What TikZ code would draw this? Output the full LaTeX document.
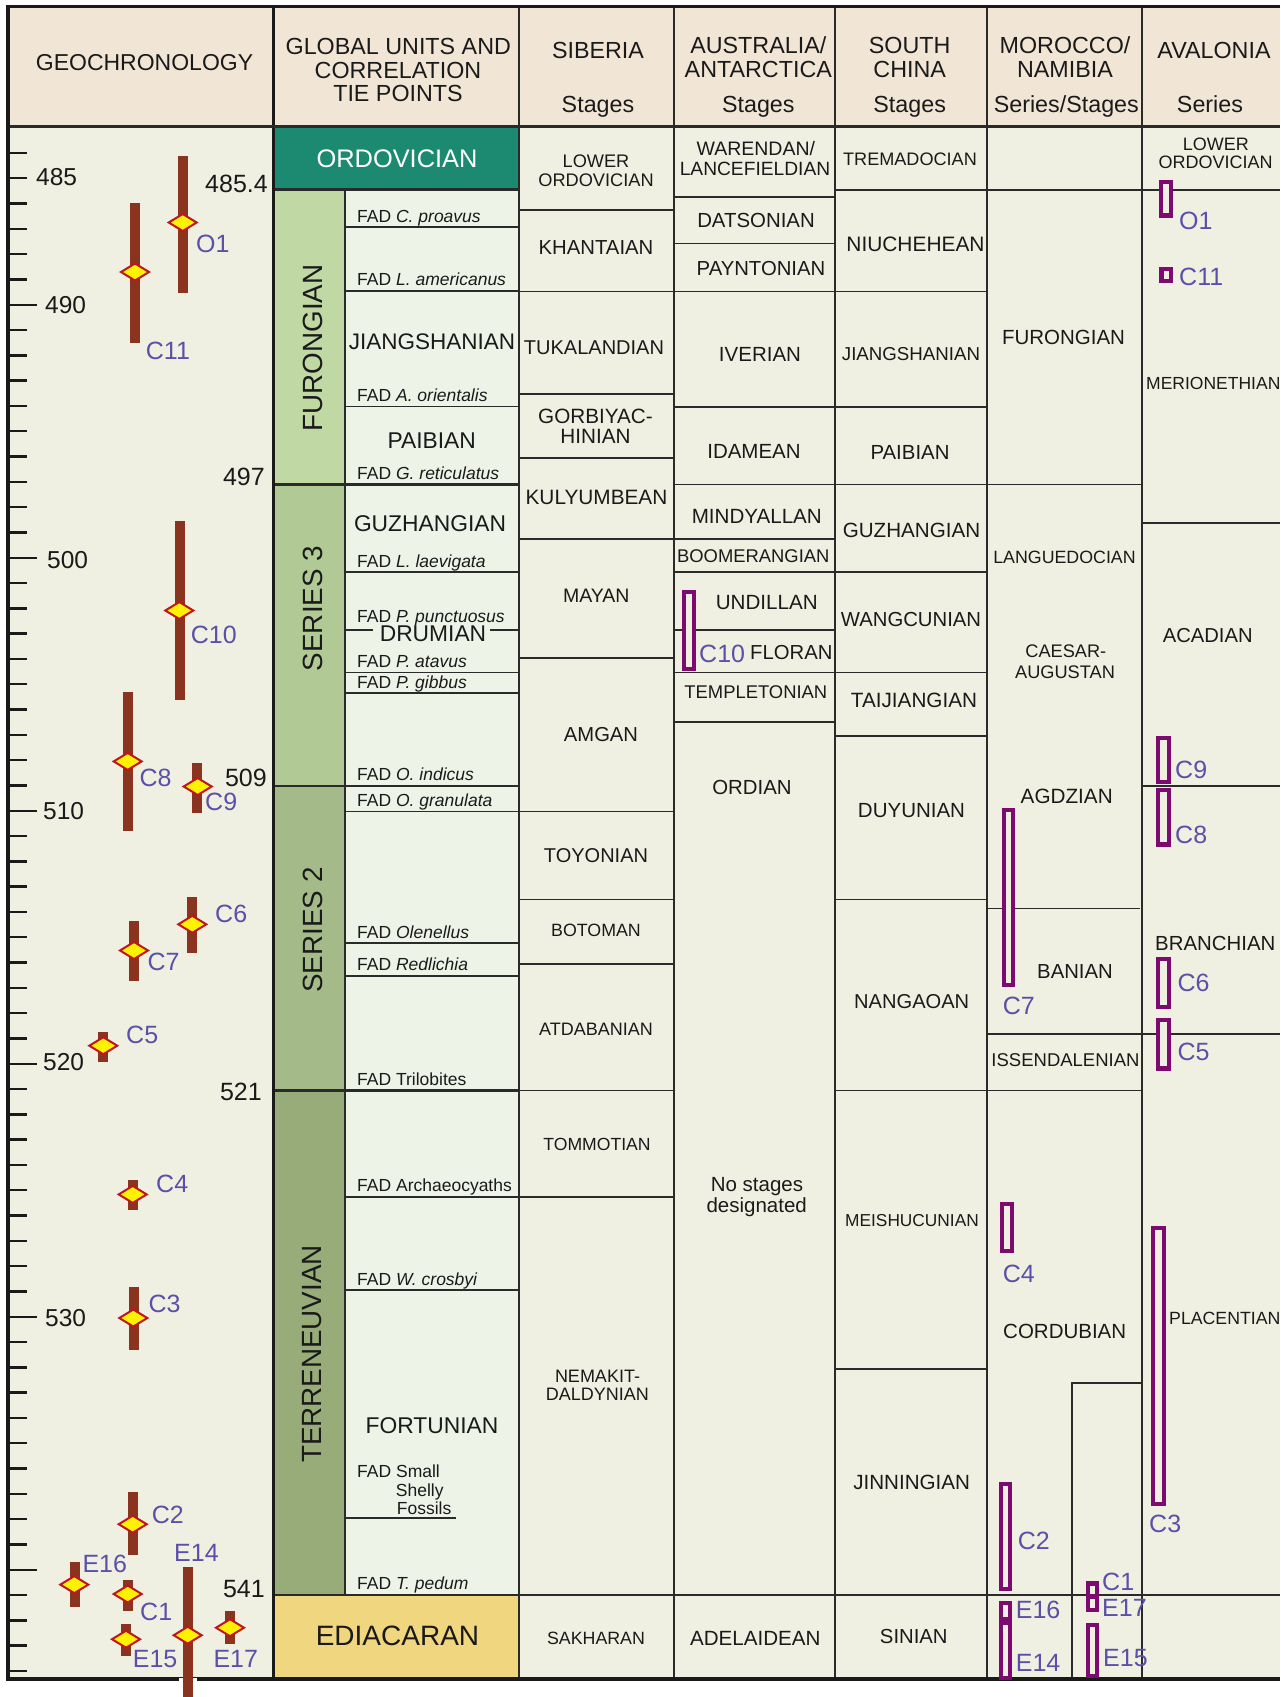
\documentclass[tikz,border=0pt]{standalone}
\usepackage{fontspec}
\setmainfont{Liberation Sans}
\newcommand\setfs[1]{\fontsize{#1}{#1}\selectfont}
\definecolor{headbg}{HTML}{F1E5D5}
\definecolor{bodybg}{HTML}{F0F0E2}
\definecolor{stagebg}{HTML}{EEF3E8}
\definecolor{ordo}{HTML}{1B8A70}
\definecolor{furo}{HTML}{C0D9A4}
\definecolor{ser3}{HTML}{B1CA95}
\definecolor{ser2}{HTML}{A4BB89}
\definecolor{terre}{HTML}{98AC79}
\definecolor{edia}{HTML}{F0D77F}
\definecolor{ink}{HTML}{1A1A1A}
\definecolor{rule}{HTML}{2A2A2A}
\definecolor{barbrown}{HTML}{8A3420}
\definecolor{diafill}{HTML}{FFF200}
\definecolor{diaedge}{HTML}{C0141E}
\definecolor{tiepurple}{HTML}{7D0A6E}
\definecolor{tielabel}{HTML}{5B50A8}

% brown age range with its tie-point diamond
\newcommand\gmark[6]{%
  \fill[barbrown] (#1,#2) rectangle (#3,#4);
  \draw[gdia] ({#5-14},#6) -- (#5,{#6-8.5}) -- ({#5+14},#6) -- (#5,{#6+8.5}) -- cycle;}
% purple range box in the regional columns (outer edge given)
\newcommand\tiebox[4]{\draw[tie] ({#1+2.1},{#2+2.1}) rectangle ({#3-2.1},{#4-2.1});}
% text cell: name, x, y, size, text
\newcommand\cell[5]{\node[txt,font=\setfs{#4}] (#1) at (#2,#3) {#5};}
% FAD datum label sitting on its line
\newcommand\fad[3]{\node[txt,font=\setfs{17.5},anchor=base west] (#1) at (357,{#2-5}) {#3};}

\begin{document}
\begin{tikzpicture}[x=1pt,y=-1pt,
  txt/.style={inner sep=0pt,text=ink},
  hl/.style={draw=rule,line width=1.7pt},
  bl/.style={draw=rule,line width=2.4pt},
  vl/.style={draw=rule,line width=2.2pt},
  frame/.style={draw=ink,line width=3.6pt},
  tick/.style={draw=ink,line width=2.4pt},
  tie/.style={draw=tiepurple,line width=4.2pt,fill=bodybg},
  tielab/.style={inner sep=0pt,text=tielabel,font=\setfs{25},anchor=west},
  gdia/.style={draw=diaedge,fill=diafill,line width=2pt},
  agelab/.style={inner sep=0pt,text=ink,font=\setfs{25},anchor=east},
  scalelab/.style={inner sep=0pt,text=ink,font=\setfs{24.5},anchor=west},
  serieslab/.style={inner sep=0pt,text=ink,font=\setfs{27.8},rotate=90},
]
\useasboundingbox (0,0) rectangle (1280,1697);
\fill[white] (0,0) rectangle (1280,1697);

% ---------- backgrounds ----------
\fill[headbg] (8,6.5) rectangle (1280,126.5);
\fill[bodybg] (8,126.5) rectangle (1280,1679);
\fill[stagebg] (345,189.5) rectangle (518.7,1594.7);
\fill[ordo] (273,126.5) rectangle (518.7,189.5);
\fill[furo] (273,189.5) rectangle (345,484.4);
\fill[ser3] (273,484.4) rectangle (345,785.7);
\fill[ser2] (273,785.7) rectangle (345,1090.5);
\fill[terre] (273,1090.5) rectangle (345,1594.7);
\fill[edia] (273,1594.7) rectangle (518.7,1679);

% ---------- global units: stage lines and series boundaries ----------
\foreach \y in {227.3,290.9,406.5,572.3,672.6,693,811.5,943.2,975.9,1196.9,1290.2}
  \draw[hl] (345,\y) -- (518.7,\y);
\foreach \y in {189.5,484.4,785.7,1090.5,1594.7}
  \draw[bl] (273,\y) -- (518.7,\y);
\draw[hl] (345,629.7) -- (373,629.7);
\draw[hl] (490,629.7) -- (518.7,629.7);
\draw[hl] (345,1518) -- (456,1518);

% ---------- regional columns ----------
\foreach \y in {209.8,291.6,393.8,458.2,538.9,658.1,811.5,899.5,964.3,1090.5,1196.9,1594.7}
  \draw[hl] (518.7,\y) -- (674.3,\y);
\foreach \y in {197.1,243.6,291.6,407.3,484.4,538.9,572.3,629.7,672.6,722.1,1594.7}
  \draw[hl] (674.3,\y) -- (835,\y);
\foreach \y in {190.2,291.6,407.3,484.4,572.3,672.6,735.9,899.5,1090.5,1368.7,1594.7}
  \draw[hl] (835,\y) -- (987,\y);
\foreach \y in {190.2,484.4,1090.5,1594.7}
  \draw[hl] (987,\y) -- (1142,\y);
\draw[hl] (987,908.6) -- (1140,908.6);
\draw[hl] (987,1034.1) -- (1280,1034.1);
\draw[hl] (1072.3,1679) -- (1072.3,1383.2) -- (1142,1383.2);
\foreach \y in {190.2,523,785.7,1594.7}
  \draw[hl] (1142,\y) -- (1280,\y);

% ---------- column dividers and frame ----------
\draw[vl] (345,189.5) -- (345,1594.7);
\foreach \x in {518.7,674.3,835,987,1142}
  \draw[vl] (\x,6.5) -- (\x,1679);
\draw[draw=ink,line width=3pt] (273,6.5) -- (273,1679);
\draw[bl] (8,126.5) -- (1280,126.5);
\draw[frame] (1280,6.5) -- (8,6.5) -- (8,1679) -- (1280,1679);

% ---------- time scale ----------
\foreach \m in {484,...,544} {
  \pgfmathsetmacro\ty{304.7+(\m-490)*25.3}
  \pgfmathsetmacro\tx{mod(\m,10)==0 ? 37 : 27}
  \draw[tick] (8,\ty) -- (\tx,\ty);
}
\node[scalelab] (m485) at (36,177.5) {485};
\node[scalelab] (m490) at (45,305) {490};
\node[scalelab] (m500) at (47,560) {500};
\node[scalelab] (m510) at (43,811) {510};
\node[scalelab] (m520) at (43,1062) {520};
\node[scalelab] (m530) at (45,1318) {530};
\node[agelab] (b4854) at (268,183.6) {485.4};
\node[agelab] (b497) at (265,476.4) {497};
\node[agelab] (b509) at (267,777.7) {509};
\node[agelab] (b521) at (262,1092) {521};
\node[agelab] (b541) at (265,1588.6) {541};

% ---------- header ----------
\cell{hgeo}{144.5}{62.5}{23}{GEOCHRONOLOGY}
\cell{hgl1}{398.3}{46.5}{23.3}{GLOBAL UNITS AND}
\cell{hgl2}{398}{70.2}{23.3}{CORRELATION}
\cell{hgl3}{398}{93.8}{23.3}{TIE POINTS}
\cell{hsib}{598}{50.2}{23.3}{SIBERIA}
\cell{haus1}{758.3}{45.5}{23.3}{AUSTRALIA/}
\cell{haus2}{758.3}{69.1}{23.3}{ANTARCTICA}
\cell{hsc1}{909.7}{45.5}{23.3}{SOUTH}
\cell{hsc2}{909.7}{69.1}{23.3}{CHINA}
\cell{hmo1}{1065}{45.5}{23.3}{MOROCCO/}
\cell{hmo2}{1065}{69.1}{23.3}{NAMIBIA}
\cell{hava}{1214}{50.2}{23.3}{AVALONIA}
\node[txt,font=\setfs{23.3},anchor=base] (hsibs) at (598,112) {Stages};
\node[txt,font=\setfs{23.3},anchor=base] (hauss) at (758.3,112) {Stages};
\node[txt,font=\setfs{23.3},anchor=base] (hscs) at (909.7,112) {Stages};
\node[txt,font=\setfs{23.3},anchor=base] (hmos) at (1066.3,112) {Series/Stages};
\node[txt,font=\setfs{23.3},anchor=base] (havs) at (1210,112) {Series};

% ---------- global units ----------
\node[inner sep=0pt,text=white,font=\setfs{25.4}] (gordo) at (397,159) {ORDOVICIAN};
\node[serieslab] (gfuro) at (313,348) {FURONGIAN};
\node[serieslab] (gser3) at (313,608.5) {SERIES 3};
\node[serieslab] (gser2) at (313,930) {SERIES 2};
\node[serieslab] (gterre) at (311.7,1354) {TERRENEUVIAN};
\cell{gedia}{397.5}{1636}{28}{EDIACARAN}
\cell{gjiang}{432}{341.8}{22.5}{JIANGSHANIAN}
\cell{gpaib}{431.7}{441}{22.8}{PAIBIAN}
\cell{gguzh}{430}{523.6}{22.8}{GUZHANGIAN}
\cell{gdrum}{433}{633.6}{22.8}{DRUMIAN}
\cell{gfort}{432}{1425.8}{22.8}{FORTUNIAN}
\fad{f1}{227.3}{FAD \textit{C. proavus}}
\fad{f2}{290.9}{FAD \textit{L. americanus}}
\fad{f3}{406.5}{FAD \textit{A. orientalis}}
\fad{f4}{484.4}{FAD \textit{G. reticulatus}}
\fad{f5}{572.3}{FAD \textit{L. laevigata}}
\fad{f6}{627.5}{FAD \textit{P. punctuosus}}
\fad{f7}{672.6}{FAD \textit{P. atavus}}
\fad{f8}{693}{FAD \textit{P. gibbus}}
\fad{f9}{785.7}{FAD \textit{O. indicus}}
\fad{f10}{811.5}{FAD \textit{O. granulata}}
\fad{f11}{943.2}{FAD \textit{Olenellus}}
\fad{f12}{975.9}{FAD \textit{Redlichia}}
\fad{f13}{1090.5}{FAD Trilobites}
\fad{f14}{1196.9}{FAD Archaeocyaths}
\fad{f15}{1290.2}{FAD \textit{W. crosbyi}}
\fad{f17}{1594.7}{FAD \textit{T. pedum}}
\node[txt,font=\setfs{17.5},anchor=base west] (f16a) at (357,1477.2) {FAD Small};
\node[txt,font=\setfs{17.5},anchor=base west] (f16b) at (395.7,1496) {Shelly};
\node[txt,font=\setfs{17.5},anchor=base west] (f16c) at (396.7,1514) {Fossils};

% ---------- Siberia ----------
\cell{s1a}{596}{161}{18.2}{LOWER}
\cell{s1b}{596}{180}{18.2}{ORDOVICIAN}
\cell{s2}{596}{248}{20.3}{KHANTAIAN}
\cell{s3}{594}{347.3}{20}{TUKALANDIAN}
\cell{s4a}{595.5}{416.4}{20.7}{GORBIYAC-}
\cell{s4b}{595.5}{436.4}{20.7}{HINIAN}
\cell{s5}{596.5}{497}{20.8}{KULYUMBEAN}
\cell{s6}{596.3}{596}{19.5}{MAYAN}
\cell{s7}{601}{734.8}{20.2}{AMGAN}
\cell{s8}{596}{855.9}{20}{TOYONIAN}
\cell{s9}{596}{930.5}{17.8}{BOTOMAN}
\cell{s10}{596}{1029.7}{18}{ATDABANIAN}
\cell{s11}{597}{1144.5}{17.6}{TOMMOTIAN}
\cell{s12a}{597.5}{1376}{18}{NEMAKIT-}
\cell{s12b}{597.3}{1394}{18}{DALDYNIAN}
\cell{s13}{596}{1638}{17.8}{SAKHARAN}

% ---------- Australia / Antarctica ----------
\cell{a1a}{755.8}{148.4}{19.5}{WARENDAN/}
\cell{a1b}{755}{169.1}{19.2}{LANCEFIELDIAN}
\cell{a2}{756}{220.7}{20.4}{DATSONIAN}
\cell{a3}{761}{268.4}{20.3}{PAYNTONIAN}
\cell{a4}{760}{354.5}{20.5}{IVERIAN}
\cell{a5}{754}{451}{20.5}{IDAMEAN}
\cell{a6}{756.8}{516.4}{20.6}{MINDYALLAN}
\cell{a7}{753.3}{556.4}{18.4}{BOOMERANGIAN}
\cell{a8}{766.8}{602.5}{20.6}{UNDILLAN}
\node[txt,font=\setfs{20.3},anchor=west] (a9) at (750,652.3) {FLORAN};
\cell{a10}{755.8}{692.3}{18.4}{TEMPLETONIAN}
\cell{a11}{752}{787.5}{20.4}{ORDIAN}
\node[txt,font=\setfs{20.5},anchor=base] (a12a) at (757,1191.5) {No stages};
\node[txt,font=\setfs{20.5},anchor=base] (a12b) at (756.7,1212.5) {designated};
\cell{a13}{755.3}{1638}{20.6}{ADELAIDEAN}

% ---------- South China ----------
\cell{c1}{910}{159}{18.1}{TREMADOCIAN}
\cell{c2}{915.5}{244.4}{20.9}{NIUCHEHEAN}
\cell{c3}{911}{354.5}{18.7}{JIANGSHANIAN}
\cell{c4}{910}{452.7}{20.4}{PAIBIAN}
\cell{c5}{911.5}{530.9}{20.6}{GUZHANGIAN}
\cell{c6}{911}{619.5}{20.3}{WANGCUNIAN}
\cell{c7}{914}{700.3}{20.7}{TAIJIANGIAN}
\cell{c8}{911.5}{810.5}{20.5}{DUYUNIAN}
\cell{c9}{911.7}{1001.4}{20.1}{NANGAOAN}
\cell{c10}{912}{1220.4}{17.3}{MEISHUCUNIAN}
\cell{c11}{911.7}{1482.6}{20.6}{JINNINGIAN}
\cell{c12}{913.8}{1636.3}{20.3}{SINIAN}

% ---------- Morocco / Namibia ----------
\cell{n1}{1063.5}{337}{20.5}{FURONGIAN}
\cell{n2}{1064.5}{557}{17.8}{LANGUEDOCIAN}
\cell{n3a}{1065.8}{651.5}{18.2}{CAESAR-}
\cell{n3b}{1065}{672.3}{18.2}{AUGUSTAN}
\cell{n4}{1066.7}{795.9}{20.7}{AGDZIAN}
\cell{n5}{1075}{971.2}{20.3}{BANIAN}
\cell{n6}{1065.5}{1060.3}{18.5}{ISSENDALENIAN}
\cell{n7}{1064.7}{1331.8}{20.5}{CORDUBIAN}

% ---------- Avalonia ----------
\cell{v1a}{1215.8}{144.4}{18}{LOWER}
\cell{v1b}{1215.5}{162.5}{18}{ORDOVICIAN}
\node[txt,font=\setfs{17.5},anchor=west] (v2) at (1146,383) {MERIONETHIAN};
\cell{v3}{1207.7}{635.9}{20.2}{ACADIAN}
\node[txt,font=\setfs{20.4},anchor=west] (v4) at (1155,943.2) {BRANCHIAN};
\node[txt,font=\setfs{17.7},anchor=west] (v5) at (1169,1318) {PLACENTIAN};

% ---------- tie points on the time scale ----------
\fill[white] (179,1677.5) rectangle (197,1697);
\gmark{178.3}{156.4}{187.7}{292.7}{182.7}{222.5}
\gmark{130}{202.9}{140}{342.9}{135}{272}
\gmark{175}{521.1}{185}{699.5}{179.3}{610.5}
\gmark{123.3}{692.3}{133.3}{831.2}{127.7}{761.4}
\gmark{192.3}{763.2}{201.7}{813}{197.7}{786.5}
\gmark{187.3}{896.6}{196.7}{953}{192.3}{924.3}
\gmark{129.3}{921.4}{138.7}{980.6}{134}{950.5}
\gmark{98.3}{1031.5}{107.7}{1061.7}{103.3}{1045.7}
\gmark{128.3}{1179.9}{137.7}{1210.3}{132.7}{1194.4}
\gmark{129.3}{1287.3}{138.7}{1349.5}{133.3}{1318}
\gmark{128.3}{1492}{137.7}{1555.3}{132.7}{1524.2}
\gmark{70}{1562.2}{80}{1606.7}{74.3}{1584.6}
\gmark{123.3}{1579.6}{132.7}{1611}{127.7}{1594}
\gmark{183.3}{1566.9}{192.7}{1697}{187.7}{1635.2}
\gmark{121}{1624}{131}{1655.5}{126}{1639.2}
\gmark{225}{1611}{235}{1643.6}{230}{1627.7}
\node[tielab] (gO1) at (196,243.6) {O1};
\node[tielab] (gC11) at (145.7,351) {C11};
\node[tielab] (gC10) at (190.7,635.2) {C10};
\node[tielab] (gC8) at (139.3,777.7) {C8};
\node[tielab] (gC9) at (205,802.1) {C9};
\node[tielab] (gC6) at (215,913.4) {C6};
\node[tielab] (gC7) at (147.3,961.4) {C7};
\node[tielab] (gC5) at (126,1034.8) {C5};
\node[tielab] (gC4) at (156,1183.5) {C4};
\node[tielab] (gC3) at (148.3,1304.3) {C3};
\node[tielab] (gC2) at (151.7,1515.2) {C2};
\node[tielab] (gE16) at (82.3,1564) {E16};
\node[tielab] (gC1) at (140,1611.7) {C1};
\node[tielab] (gE14) at (174,1553.2) {E14};
\node[tielab] (gE15) at (132.7,1659.1) {E15};
\node[tielab] (gE17) at (213.3,1659.1) {E17};

% ---------- tie points in the regional columns ----------
\tiebox{681.7}{589.7}{695.7}{671.2}
\node[tielab] (rC10) at (699,654) {C10};
\tiebox{1001.7}{807.9}{1015}{986.8}
\node[tielab] (rC7) at (1002.7,1006) {C7};
\tiebox{1000}{1201.6}{1014}{1253}
\node[tielab] (rC4) at (1002.7,1273.6) {C4};
\tiebox{998.7}{1481.5}{1012}{1591}
\node[tielab] (rC2) at (1017.7,1540.5) {C2};
\tiebox{998.7}{1600.9}{1012}{1621}
\node[tielab] (rE16) at (1015.7,1610.3) {E16};
\tiebox{998.7}{1621}{1012}{1679.7}
\node[tielab] (rE14) at (1015.7,1662.7) {E14};
\tiebox{1085.7}{1581.4}{1099}{1598.5}
\tiebox{1085.7}{1594.5}{1099}{1611.7}
\node[tielab] (rC1) at (1102,1581.4) {C1};
\node[tielab] (rE17) at (1102,1608) {E17};
\tiebox{1085.7}{1622.6}{1099}{1678}
\node[tielab] (rE15) at (1103,1658) {E15};
\tiebox{1158.7}{180}{1172.7}{217.5}
\node[tielab] (rO1) at (1179,220.7) {O1};
\tiebox{1159.3}{266.5}{1173.3}{283}
\node[tielab] (rC11) at (1179,277) {C11};
\tiebox{1156}{735.9}{1170.7}{783.9}
\node[tielab] (rC9) at (1175,769.4) {C9};
\tiebox{1156}{787.5}{1170.7}{846.5}
\node[tielab] (rC8) at (1175,834.8) {C8};
\tiebox{1156}{957}{1170.7}{1009.4}
\node[tielab] (rC6) at (1177.3,982.5) {C6};
\tiebox{1156}{1017.7}{1170.7}{1070.5}
\node[tielab] (rC5) at (1177.3,1052.3) {C5};
\tiebox{1151}{1225.8}{1165.7}{1506}
\node[tielab] (rC3) at (1149,1524) {C3};
\end{tikzpicture}
\end{document}
